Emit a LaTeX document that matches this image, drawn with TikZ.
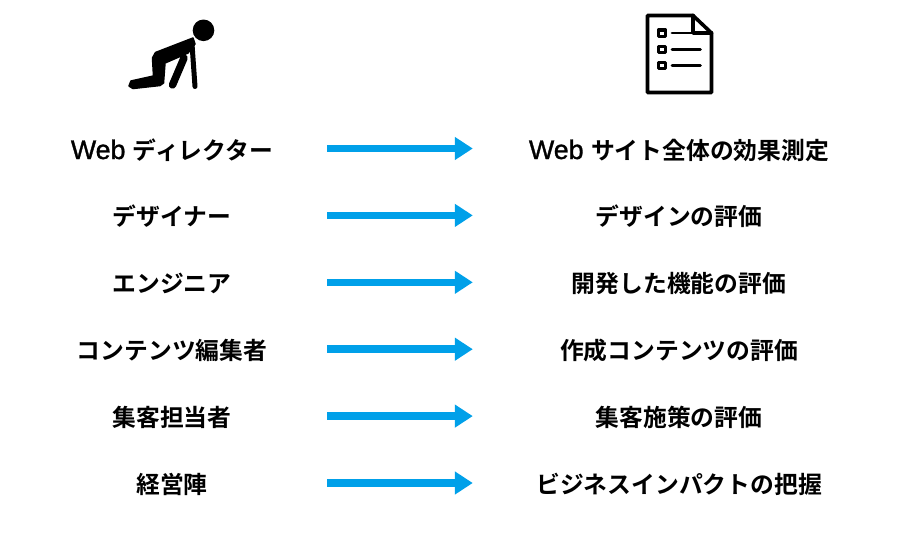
\documentclass[tikz,border=0pt]{standalone}
\usepackage{fontspec}
\usetikzlibrary{arrows.meta,positioning}
\setmainfont{Noto Sans CJK JP}[UprightFont=* Bold,BoldFont=* Bold]
\newfontfamily\latinfont{Liberation Sans}[FakeBold=1.2]
\newcommand{\webword}{{\latinfont\fontsize{26.8}{26}\selectfont Web\ }}
\definecolor{ArrowBlue}{RGB}{0,160,233}
\tikzset{
  rolebox/.style={minimum width=310pt,minimum height=30pt,inner sep=0pt,text height=21pt,text depth=0pt,font=\fontsize{23.8}{26}\selectfont},
  taskbox/.style={rolebox,minimum width=412pt},
  flowarrow/.style={ArrowBlue,line width=7.6pt,-{Triangle[length=18pt,width=22pt]}},
  iconline/.style={black,line cap=round,line join=round}
}
\begin{document}
\begin{tikzpicture}[x=1pt,y=-1pt]
\useasboundingbox (0,0) rectangle (900,539);

% person
\fill (203.5,30.3) circle (10.8);
\fill[iconline,draw=black,line width=1.5pt] (193,38) -- (155.5,52.5) -- (152.5,58) -- (153.5,76) -- (131,81) -- (129,86) -- (133,88.5) -- (160,85.5) -- (163.5,83) -- (165,63) -- (188,53) -- (195,44) -- cycle;
\draw[iconline,line width=5pt] (192,44) -- (195,86.5);
\draw[iconline,line width=7.5pt] (184,58) -- (172.5,85);

% checklist
\draw[iconline,line width=3.6pt] (693,15.5) -- (647.5,15.5) -- (647.5,92.5) -- (711.5,92.5) -- (711.5,33) -- cycle;
\draw[iconline,line width=3.6pt] (693,15.5) -- (693,33) -- (711.5,33);
\foreach \y/\xend in {33/693,49.5/700.5,65.5/700.5}{
  \draw[iconline,line width=3.4pt] (658.5,\y-3.2) rectangle (665.5,\y+3.2);
  \draw[iconline,line width=2.8pt] (672,\y) -- (\xend,\y);
}

\foreach \i/\ltext/\rtext in {%
  1/\webword ディレクター/\webword サイト全体の効果測定,
  2/デザイナー/デザインの評価,
  3/エンジニア/開発した機能の評価,
  4/コンテンツ編集者/作成コンテンツの評価,
  5/集客担当者/集客施策の評価,
  6/経営陣/ビジネスインパクトの把握}{
  \pgfmathsetmacro{\yrow}{148.5+66.9*(\i-1)}
  \node[rolebox] (role\i) at (172,\yrow) {\ltext};
  \node[taskbox] (task\i) at (679,\yrow) {\rtext};
  \draw[flowarrow] (role\i) -- (task\i);
}
\end{tikzpicture}
\end{document}
